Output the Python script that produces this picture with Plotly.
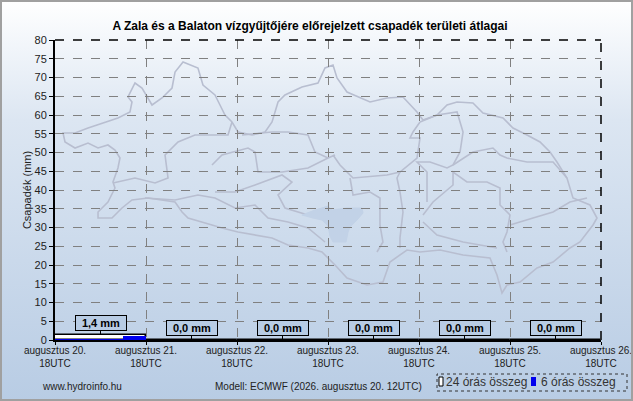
import base64
import plotly.graph_objects as go

# --- adatok ---
day_labels = ["augusztus 20.", "augusztus 21.", "augusztus 22.", "augusztus 23.",
              "augusztus 24.", "augusztus 25.", "augusztus 26."]
sum_24h = [1.4, 0.0, 0.0, 0.0, 0.0, 0.0]
sum_6h = [0.1, 0.1, 0.1, 1.1,
          0.0, 0.0, 0.0, 0.0,
          0.0, 0.0, 0.0, 0.0,
          0.0, 0.0, 0.0, 0.0,
          0.0, 0.0, 0.0, 0.0,
          0.0, 0.0, 0.0, 0.0]
y_ticks = list(range(0, 81, 5))

W, H = 633, 401
L, R, T, B = 55, 32, 40, 61
PW, PH = W - L - R, H - T - B


def px(x):
    return (x - L) / PW


def py(y):
    return (H - B - y) / PH


def to_data(pts):
    # pixel -> (nap, mm) a hattérterkephez
    return [((x - L) / PW * 6, (H - B - y) / PH * 80) for x, y in pts]


def path(pts, close=False):
    d = to_data(pts)
    s = "M " + " L ".join(f"{a:.3f},{b:.3f}" for a, b in d)
    return s + (" Z" if close else "")


# hatter terkep (vazlatos)
outer = [(63, 133), (75, 133), (88, 128), (97, 125), (118, 118), (130, 112), (132, 102), (128, 97),
         (135, 83), (142, 88), (152, 105), (162, 98), (172, 88), (175, 72), (183, 62), (198, 68),
         (203, 85), (215, 95), (220, 105), (225, 115), (232, 122), (238, 132), (252, 135), (265, 132),
         (272, 122), (278, 102), (285, 95), (302, 87), (318, 83), (325, 68), (333, 65), (337, 78),
         (347, 92), (370, 102), (387, 98), (403, 97), (417, 112), (423, 120), (437, 115), (447, 105),
         (457, 102), (473, 103), (483, 113), (503, 118), (513, 128), (527, 135), (540, 142), (550, 152),
         (557, 162), (567, 178), (573, 198), (590, 205), (597, 218), (593, 225), (580, 242), (570, 248),
         (553, 262), (537, 268), (520, 282), (507, 285), (502, 293), (497, 275), (490, 258), (463, 255),
         (440, 250), (420, 252), (407, 250), (390, 262), (383, 282), (367, 285), (347, 278), (335, 265),
         (322, 252), (308, 248), (288, 245), (272, 238), (238, 232), (222, 228), (212, 225), (188, 218),
         (182, 212), (175, 202), (148, 198), (132, 200), (122, 208), (112, 218), (98, 218), (98, 212),
         (108, 202), (115, 188), (113, 182), (118, 168), (120, 158), (115, 150), (108, 145), (98, 148),
         (88, 143), (75, 148), (65, 142), (63, 133)]
inner = [
    [(113, 183), (135, 178), (155, 183), (168, 178), (165, 155), (178, 142), (195, 135), (228, 135), (232, 122)],
    [(145, 198), (175, 200), (198, 195), (215, 198), (235, 208), (255, 205), (268, 218), (288, 222), (308, 228), (325, 242)],
    [(215, 192), (235, 192), (255, 185), (282, 175), (292, 182), (278, 195), (285, 208), (308, 215)],
    [(212, 165), (222, 155), (248, 148), (255, 152), (258, 172), (282, 172), (308, 168), (328, 158), (335, 155)],
    [(242, 135), (272, 132), (288, 132), (308, 135), (315, 152), (328, 158)],
    [(333, 155), (340, 165), (353, 178), (387, 175), (400, 172), (417, 158), (420, 138), (410, 138), (413, 132), (420, 122)],
    [(420, 122), (437, 115), (457, 112), (463, 132), (460, 152), (453, 165), (447, 168), (430, 162), (417, 162), (427, 172), (427, 202)],
    [(453, 165), (473, 152), (493, 148), (500, 155), (507, 158), (527, 162), (553, 162), (567, 178)],
    [(350, 178), (353, 195), (370, 192), (380, 198), (380, 225), (383, 242), (377, 252)],
    [(400, 172), (397, 178), (400, 192), (403, 212), (400, 238), (400, 248)],
    [(423, 215), (433, 202), (453, 185), (453, 172), (467, 182), (487, 182), (500, 188), (500, 205), (510, 215), (507, 232), (503, 242), (507, 252)],
    [(423, 222), (437, 235), (463, 242), (497, 248)],
    [(510, 225), (533, 218), (553, 212), (570, 202), (587, 198)],
]
balaton = [(302, 215), (315, 210), (322, 208), (328, 206), (332, 210), (347, 208), (362, 208), (363, 213),
           (357, 220), (350, 227), (348, 232), (346, 242), (333, 242), (330, 236), (328, 226), (322, 220),
           (313, 218)]

fig = go.Figure()

fig.add_trace(go.Bar(
    x=[i + 0.5 for i in range(len(sum_24h))],
    y=sum_24h,
    width=1.0,
    marker=dict(color="white", line=dict(color="black", width=1.5)),
    name="24 órás összeg",
    showlegend=False,
))
fig.add_trace(go.Bar(
    x=[0.125 + 0.25 * k for k in range(len(sum_6h))],
    y=sum_6h,
    width=0.25,
    marker=dict(color="#0000ee", line=dict(width=0)),
    name="6 órás összeg",
    showlegend=False,
))

shapes = []
map_line = dict(color="#b8bed0", width=1.6)
shapes.append(dict(type="path", path=path(outer, True), xref="x", yref="y",
                   line=map_line, layer="below"))
for seg in inner:
    shapes.append(dict(type="path", path=path(seg), xref="x", yref="y",
                       line=map_line, layer="below"))
shapes.append(dict(type="path", path=path(balaton, True), xref="x", yref="y",
                   fillcolor="#c2d2e7", line=dict(color="#c2d2e7", width=1), layer="below"))

# szaggatott felso es jobb keret
shapes.append(dict(type="line", xref="paper", yref="paper", x0=0, x1=1, y0=1, y1=1,
                   line=dict(color="black", width=1.5, dash="dash")))
shapes.append(dict(type="line", xref="paper", yref="paper", x0=1, x1=1, y0=0, y1=1,
                   line=dict(color="black", width=1.5, dash="dash")))
# kulso keret
shapes.append(dict(type="rect", xref="paper", yref="paper",
                   x0=px(1), x1=px(632), y0=py(400), y1=py(1),
                   line=dict(color="#a0a0a0", width=2)))
# jelmagyarazat
shapes.append(dict(type="rect", xref="paper", yref="paper",
                   x0=px(437), x1=px(627), y0=py(391), y1=py(374),
                   line=dict(color="#333333", width=1, dash="dot")))
shapes.append(dict(type="rect", xref="paper", yref="paper",
                   x0=px(439), x1=px(443), y0=py(386), y1=py(377),
                   fillcolor="white", line=dict(color="black", width=1)))
shapes.append(dict(type="rect", xref="paper", yref="paper",
                   x0=px(531), x1=px(536), y0=py(386), y1=py(377),
                   fillcolor="#0000ee", line=dict(width=0)))

annotations = []
for i, v in enumerate(sum_24h):
    annotations.append(dict(
        x=i + 0.5, y=v, xref="x", yref="y",
        text="<b>" + f"{v:.1f}".replace(".", ",") + " mm</b>",
        showarrow=True, arrowhead=0, arrowwidth=1, arrowcolor="black",
        ax=0, ay=-12,
        bgcolor="#b8cce4", bordercolor="black", borderwidth=1, borderpad=1,
        width=48,
        font=dict(size=11, color="black", family="Liberation Sans, Arial"),
    ))

foot = dict(xref="paper", yref="paper", showarrow=False, xanchor="center", yanchor="middle",
            font=dict(size=10, color="#222222", family="Liberation Sans, Arial"))
annotations.append(dict(foot, x=px(82), y=py(386), text="www.hydroinfo.hu"))
annotations.append(dict(foot, x=px(318), y=py(386), text="Modell: ECMWF (2026. augusztus 20. 12UTC)"))
leg = dict(xref="paper", yref="paper", showarrow=False, xanchor="left", yanchor="middle",
           font=dict(size=12, color="#333333", family="Liberation Sans, Arial"))
annotations.append(dict(leg, x=px(444), y=py(382), text="24 órás összeg"))
annotations.append(dict(leg, x=px(539), y=py(382), text="6 órás összeg"))

svg = ('<svg xmlns="http://www.w3.org/2000/svg" width="633" height="401" preserveAspectRatio="none">'
       '<defs><linearGradient id="g" x1="0" y1="0" x2="0" y2="1">'
       '<stop offset="0" stop-color="#ffffff"/><stop offset="0.3" stop-color="#dce6f2"/>'
       '<stop offset="1" stop-color="#b8cce4"/></linearGradient></defs>'
       '<rect width="633" height="401" fill="url(#g)"/></svg>')
bg_src = "data:image/svg+xml;base64," + base64.b64encode(svg.encode()).decode()

fig.update_layout(
    width=W, height=H,
    margin=dict(l=L, r=R, t=T, b=B),
    paper_bgcolor="#c8d8ec",
    plot_bgcolor="white",
    barmode="overlay",
    bargap=0,
    font=dict(family="Liberation Sans, Arial", color="#222222"),
    title=dict(
        text="<b>A Zala és a Balaton vízgyűjtőjére előrejelzett csapadék területi átlagai</b>",
        font=dict(size=12, color="black"),
        xref="container", x=310 / W, xanchor="center", y=1 - 26 / H, yanchor="middle",
    ),
    xaxis=dict(
        range=[0, 6],
        tickvals=list(range(len(day_labels))),
        ticktext=[d + "<br>18UTC" for d in day_labels],
        tickfont=dict(size=10),
        ticklabelstandoff=-3,
        showgrid=True, gridcolor="#808080", griddash="dash", gridwidth=1,
        showline=True, linecolor="black", linewidth=2,
        ticks="outside", ticklen=3, tickcolor="black",
        zeroline=False, fixedrange=True, automargin=False,
    ),
    yaxis=dict(
        range=[0, 80],
        tickvals=y_ticks,
        tickfont=dict(size=11),
        title=dict(text="Csapadék (mm)", font=dict(size=11), standoff=1),
        showgrid=True, gridcolor="#808080", griddash="dash", gridwidth=1,
        showline=True, linecolor="black", linewidth=2,
        ticks="outside", ticklen=4, tickcolor="black",
        zeroline=False, fixedrange=True, automargin=False,
    ),
    shapes=shapes,
    annotations=annotations,
    images=[dict(source=bg_src, xref="paper", yref="paper",
                 x=px(0), y=py(0), sizex=W / PW, sizey=H / PH,
                 xanchor="left", yanchor="top", sizing="stretch", layer="below")],
    showlegend=False,
)

fig.write_html("out.html", config={"displayModeBar": False},
               post_script="document.body.style.margin='0';")
